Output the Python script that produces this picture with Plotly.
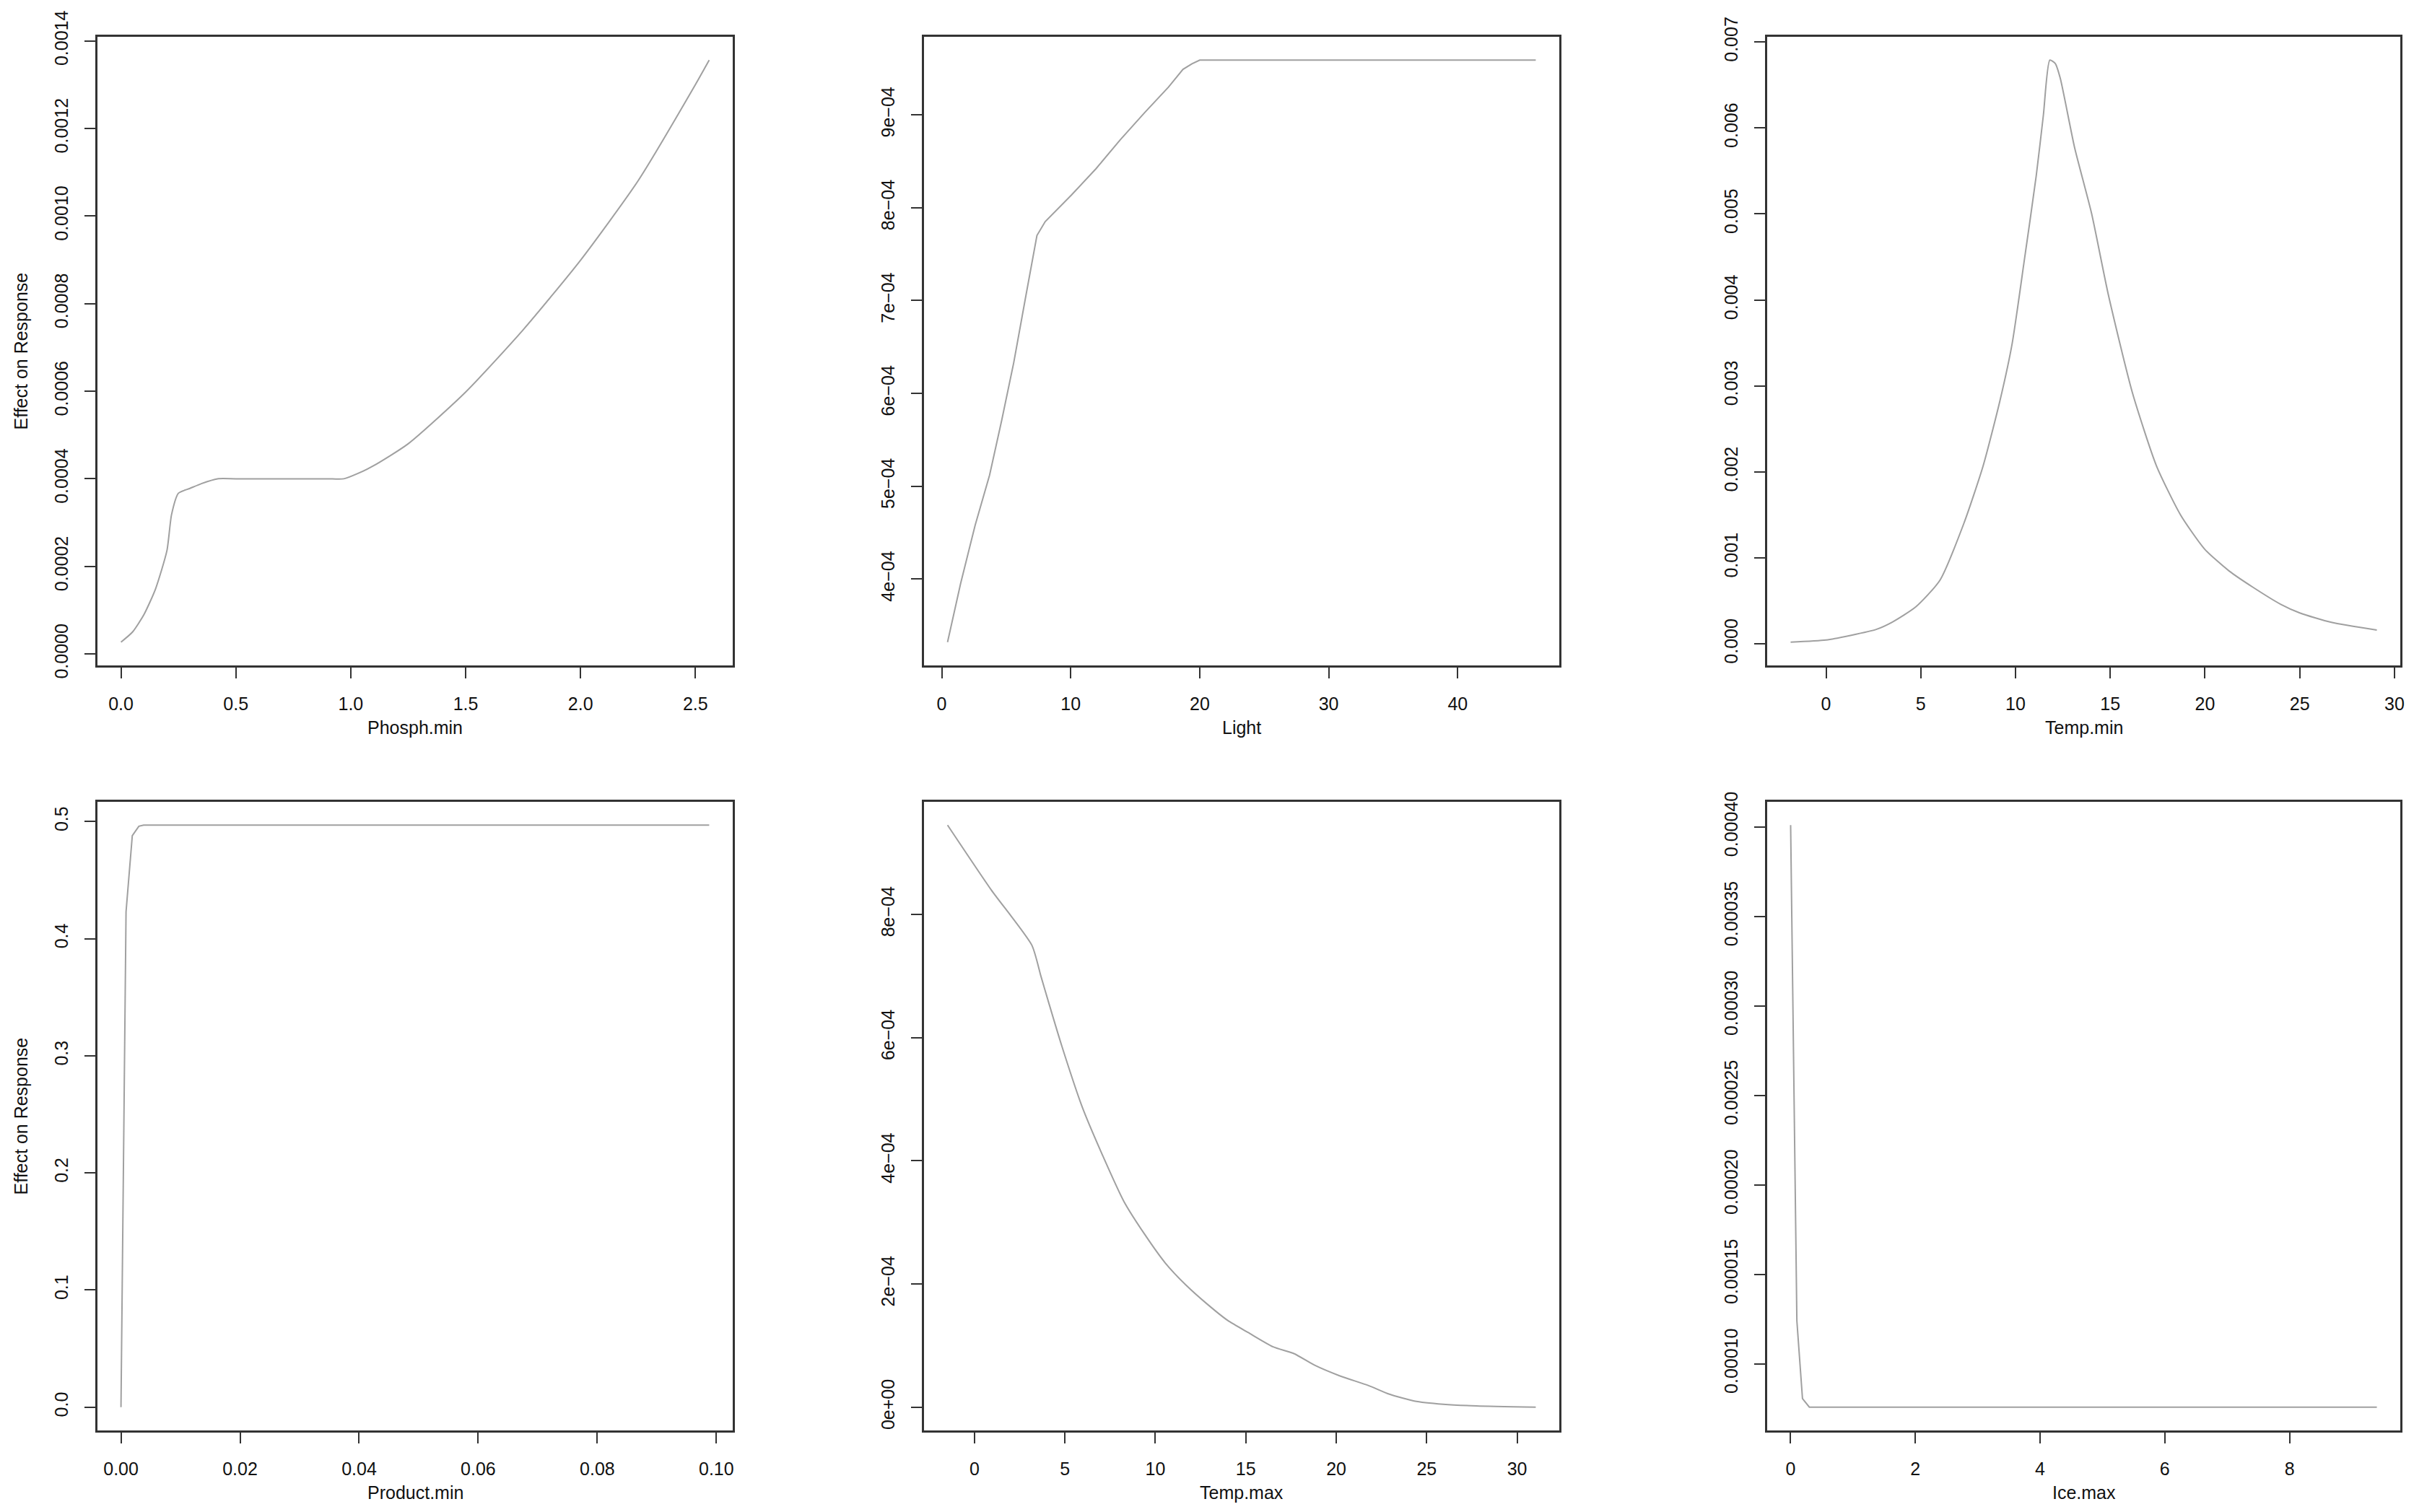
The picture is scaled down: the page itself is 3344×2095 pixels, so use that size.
import plotly.graph_objects as go

# Phosph.min
phosph_x = [0.0, 0.05, 0.1, 0.15, 0.2, 0.22, 0.25, 0.3, 0.35, 0.42, 0.5, 0.75, 0.9, 0.97,
            1.03, 1.1, 1.25, 1.5, 1.75, 2.0, 2.25, 2.5, 2.56]
phosph_y = [0.000027, 0.000050, 0.000090, 0.000148, 0.000236, 0.000318, 0.000367, 0.000378,
            0.000389, 0.000400, 0.000400, 0.000400, 0.000400, 0.000400, 0.000412, 0.000430,
            0.000480, 0.000598, 0.000740, 0.000899, 0.001080, 0.001300, 0.001356]
phosph_xticks = [0.0, 0.5, 1.0, 1.5, 2.0, 2.5]
phosph_xlabels = ["0.0", "0.5", "1.0", "1.5", "2.0", "2.5"]
phosph_yticks = [0.0, 0.0002, 0.0004, 0.0006, 0.0008, 0.0010, 0.0012, 0.0014]
phosph_ylabels = ["0.0000", "0.0002", "0.0004", "0.0006", "0.0008", "0.0010", "0.0012", "0.0014"]

# Light
light_x = [0.45, 1.46, 2.59, 3.71, 4.65, 5.58, 6.52, 7.38, 8.02, 10.08, 11.96, 13.83,
           15.7, 17.58, 18.7, 19.4, 20.0, 46.05]
light_y = [3.32e-4, 3.95e-4, 4.58e-4, 5.12e-4, 5.71e-4, 6.33e-4, 7.05e-4, 7.70e-4, 7.85e-4,
           8.14e-4, 8.42e-4, 8.73e-4, 9.02e-4, 9.30e-4, 9.49e-4, 9.55e-4, 9.59e-4, 9.59e-4]
light_xticks = [0, 10, 20, 30, 40]
light_xlabels = ["0", "10", "20", "30", "40"]
light_yticks = [4e-4, 5e-4, 6e-4, 7e-4, 8e-4, 9e-4]
light_ylabels = ["4e\u221204", "5e\u221204", "6e\u221204", "7e\u221204", "8e\u221204", "9e\u221204"]

# Temp.min
tmin_x = [-1.87, 0.0, 1.33, 2.67, 3.47, 4.74, 6.01, 7.28, 8.29, 9.18, 9.82, 10.45, 11.09,
          11.47, 11.81, 12.1, 12.36, 13.12, 14.01, 14.9, 16.17, 17.44, 18.71, 19.99, 21.26,
          22.52, 24.0, 25.0, 26.67, 29.07]
tmin_y = [0.00002, 0.000045, 0.0001, 0.000170, 0.000250, 0.000431, 0.00074, 0.001405,
          0.00207, 0.00283, 0.00349, 0.00444, 0.00544, 0.00615, 0.00679, 0.00675, 0.00658,
          0.00577, 0.00501, 0.00406, 0.00292, 0.00207, 0.00150, 0.00110, 0.00085, 0.00066,
          0.00046, 0.00036, 0.00025, 0.00016]
tmin_xticks = [0, 5, 10, 15, 20, 25, 30]
tmin_xlabels = ["0", "5", "10", "15", "20", "25", "30"]
tmin_yticks = [0.0, 0.001, 0.002, 0.003, 0.004, 0.005, 0.006, 0.007]
tmin_ylabels = ["0.000", "0.001", "0.002", "0.003", "0.004", "0.005", "0.006", "0.007"]

# Product.min
prod_x = [0.0, 0.00085, 0.0019, 0.003, 0.0038, 0.0988]
prod_y = [0.0, 0.423, 0.488, 0.496, 0.497, 0.497]
prod_xticks = [0.0, 0.02, 0.04, 0.06, 0.08, 0.10]
prod_xlabels = ["0.00", "0.02", "0.04", "0.06", "0.08", "0.10"]
prod_yticks = [0.0, 0.1, 0.2, 0.3, 0.4, 0.5]
prod_ylabels = ["0.0", "0.1", "0.2", "0.3", "0.4", "0.5"]

# Temp.max
tmax_x = [-1.49, 0.92, 3.17, 3.67, 4.13, 4.82, 5.96, 7.11, 8.26, 9.40, 10.55, 11.7, 12.84,
          13.99, 15.14, 16.51, 17.66, 18.81, 20.18, 21.79, 22.94, 24.31, 25.92, 27.75, 31.03]
tmax_y = [9.45e-4, 8.40e-4, 7.50e-4, 7.00e-4, 6.54e-4, 5.87e-4, 4.87e-4, 4.07e-4, 3.34e-4,
          2.81e-4, 2.34e-4, 1.98e-4, 1.68e-4, 1.41e-4, 1.21e-4, 0.98e-4, 0.87e-4, 0.68e-4,
          0.51e-4, 0.35e-4, 0.21e-4, 0.10e-4, 0.047e-4, 0.02e-4, 0.0]
tmax_xticks = [0, 5, 10, 15, 20, 25, 30]
tmax_xlabels = ["0", "5", "10", "15", "20", "25", "30"]
tmax_yticks = [0.0, 2e-4, 4e-4, 6e-4, 8e-4]
tmax_ylabels = ["0e+00", "2e\u221204", "4e\u221204", "6e\u221204", "8e\u221204"]

# Ice.max
ice_x = [0.0, 0.1, 0.19, 0.3, 9.4]
ice_y = [0.000401, 0.000124, 0.0000805, 0.0000757, 0.0000757]
ice_xticks = [0, 2, 4, 6, 8]
ice_xlabels = ["0", "2", "4", "6", "8"]
ice_yticks = [0.0001, 0.00015, 0.0002, 0.00025, 0.0003, 0.00035, 0.0004]
ice_ylabels = ["0.00010", "0.00015", "0.00020", "0.00025", "0.00030", "0.00035", "0.00040"]

W, H = 3344, 2095
cols = [(135, 1015), (1280, 2160), (2448, 3325)]
rows = [(51, 922), (1111, 1982)]

font = dict(family="Liberation Sans, Arial, sans-serif", size=25, color="#111111")
box_color = "#333333"
line_color = "#a0a0a0"


def pad_range(v):
    lo, hi = min(v), max(v)
    d = (hi - lo) * 0.04
    return [lo - d, hi + d]


# (x, y, x ticks, x labels, y ticks, y labels, x title, y title?, smooth?)
panels = [
    (phosph_x, phosph_y, phosph_xticks, phosph_xlabels, phosph_yticks, phosph_ylabels, "Phosph.min", True, True),
    (light_x, light_y, light_xticks, light_xlabels, light_yticks, light_ylabels, "Light", False, False),
    (tmin_x, tmin_y, tmin_xticks, tmin_xlabels, tmin_yticks, tmin_ylabels, "Temp.min", False, True),
    (prod_x, prod_y, prod_xticks, prod_xlabels, prod_yticks, prod_ylabels, "Product.min", True, False),
    (tmax_x, tmax_y, tmax_xticks, tmax_xlabels, tmax_yticks, tmax_ylabels, "Temp.max", False, True),
    (ice_x, ice_y, ice_xticks, ice_xlabels, ice_yticks, ice_ylabels, "Ice.max", False, False),
]

axis_style = dict(showline=True, mirror=True, linecolor=box_color, linewidth=2.5,
                  ticks="outside", ticklen=15, tickwidth=2, tickcolor=box_color,
                  showgrid=False, zeroline=False, tickfont=font, tickmode="array",
                  automargin=False)

fig = go.Figure()

for i, (x, y, xt, xl, yt, yl, xtitle, ytitle, smooth) in enumerate(panels):
    r, c = divmod(i, 3)
    n = "" if i == 0 else str(i + 1)
    left, right = cols[c]
    top, bottom = rows[r]

    line = dict(color=line_color, width=2)
    if smooth:
        line.update(shape="spline", smoothing=0.6)
    fig.add_trace(go.Scatter(x=x, y=y, mode="lines", line=line,
                             xaxis="x" + n, yaxis="y" + n, showlegend=False, hoverinfo="skip"))

    fig.update_layout({
        "xaxis" + n: dict(domain=[left / W, right / W], anchor="y" + n, range=pad_range(x),
                          tickvals=xt, ticktext=xl, ticklabelstandoff=14, **axis_style),
        "yaxis" + n: dict(domain=[1 - bottom / H, 1 - top / H], anchor="x" + n, range=pad_range(y),
                          tickvals=yt, ticktext=yl, tickangle=-90, ticklabelstandoff=13, **axis_style),
    })

    fig.add_annotation(text=xtitle, xref="paper", yref="paper", x=(left + right) / 2 / W,
                       y=1 - (bottom + 86) / H, xanchor="center", yanchor="middle",
                       showarrow=False, font=font)
    if ytitle:
        fig.add_annotation(text="Effect on Response", xref="paper", yref="paper", x=28 / W,
                           y=1 - (top + bottom) / 2 / H, xanchor="center", yanchor="middle",
                           textangle=-90, showarrow=False, font=font)

fig.update_layout(width=W, height=H, margin=dict(l=0, r=0, t=0, b=0, autoexpand=False),
                  paper_bgcolor="white", plot_bgcolor="white")

# drop the default page margin so the figure sits at the window origin
fig.write_html("out.html", config={"displayModeBar": False},
               post_script="document.body.style.margin='0px';")
